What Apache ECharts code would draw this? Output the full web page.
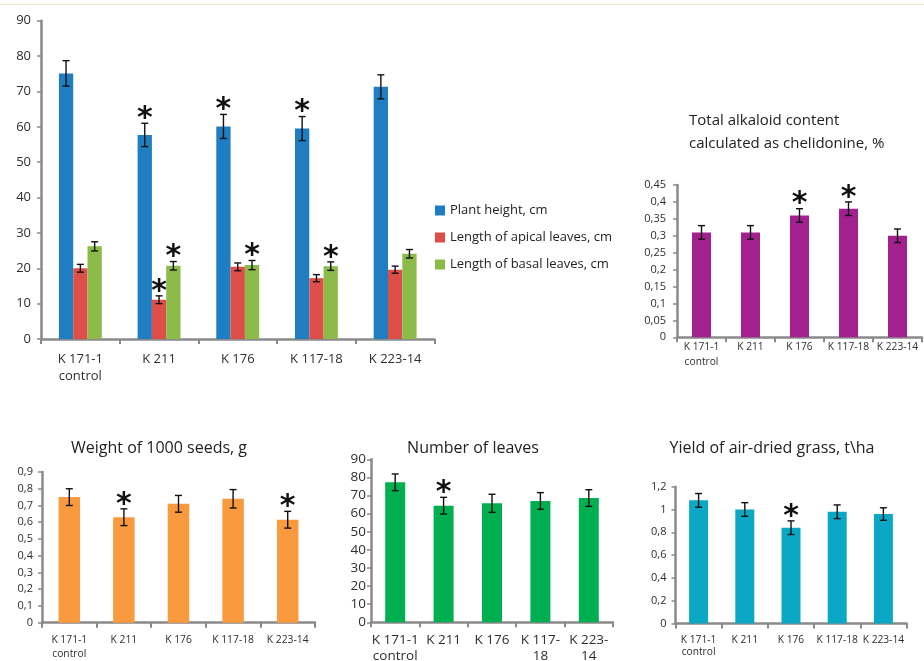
<!DOCTYPE html>
<html><head><meta charset="utf-8">
<script src="https://cdn.jsdelivr.net/npm/echarts@6/dist/echarts.min.js"></script>
<style>html,body{margin:0;padding:0;background:#fff}#c{width:924px;height:661px}</style>
</head><body><div id="c"></div>
<script>
// ---- data ----
const categories = ['K 171-1\ncontrol', 'K 211', 'K 176', 'K 117-18', 'K 223-14'];
const categoriesLeaves = ['K 171-1\ncontrol', 'K 211', 'K 176', 'K 117-\n18', 'K 223-\n14'];

const plantHeight = [75.1, 57.7, 60.1, 59.5, 71.3];
const plantHeightErr = [3.6, 3.3, 3.4, 3.4, 3.4];
const plantHeightSig = [0, 1, 1, 1, 0];
const apicalLen = [20.0, 11.1, 20.4, 17.2, 19.6];
const apicalErr = [1.1, 1.1, 1.1, 1.0, 1.0];
const apicalSig = [0, 1, 0, 0, 0];
const basalLen = [26.2, 20.7, 20.9, 20.6, 24.1];
const basalErr = [1.3, 1.2, 1.3, 1.2, 1.2];
const basalSig = [0, 1, 1, 1, 0];

const alkaloid = [0.31, 0.31, 0.36, 0.38, 0.30];
const alkaloidErr = [0.02, 0.02, 0.02, 0.02, 0.02];
const alkaloidSig = [0, 0, 1, 1, 0];

const seedWeight = [0.75, 0.63, 0.71, 0.74, 0.615];
const seedErr = [0.05, 0.05, 0.05, 0.055, 0.05];
const seedSig = [0, 1, 0, 0, 1];

const leafCount = [77.3, 64.4, 65.7, 67.0, 68.6];
const leafErr = [4.6, 4.6, 5.0, 4.6, 4.6];
const leafSig = [0, 1, 0, 0, 0];

const grassYield = [1.08, 1.0, 0.84, 0.98, 0.96];
const yieldErr = [0.06, 0.06, 0.06, 0.06, 0.055];
const yieldSig = [0, 0, 1, 0, 0];

const seriesNames = ['Plant height, cm', 'Length of apical leaves, cm', 'Length of basal leaves, cm'];
const titles = ['Total alkaloid content\ncalculated as chelidonine, %', 'Weight of 1000 seeds, g', 'Number of leaves', 'Yield of air-dried grass, t\\ha'];

// ---- chart ----
const FONT = '"Open Sans", "Noto Sans", sans-serif';
const AXIS_COLOR = '#8a8a8a';
const LABEL_COLOR = '#2e2e2e';
const fmt = v => String(Number(v.toFixed(3))).replace('.', ',');

const grids = [
  {left: 41, top: 20.7, width: 393.5, height: 318.3},
  {left: 677, top: 185, width: 245, height: 152.3},
  {left: 42, top: 472, width: 273, height: 150.7},
  {left: 371, top: 459.3, width: 242, height: 163},
  {left: 675.5, top: 486.7, width: 231, height: 136.7}
].map(g => Object.assign({outerBoundsMode: 'none', containLabel: false}, g));

const xCfg = [
  {data: categories, fs: 13, lh: 17, margin: 12},
  {data: categories, fs: 10.2, lh: 15, margin: 2},
  {data: categories, fs: 10.3, lh: 13.3, margin: 11},
  {data: categoriesLeaves, fs: 13.5, lh: 16, margin: 10},
  {data: categories, fs: 10.2, lh: 12, margin: 11}
];
const yCfg = [
  {max: 90, interval: 10, fs: 13, margin: 10},
  {max: 0.45, interval: 0.05, fs: 11, margin: 11},
  {max: 0.9, interval: 0.1, fs: 11, margin: 9},
  {max: 90, interval: 10, fs: 13.5, margin: 5},
  {max: 1.2, interval: 0.2, fs: 11, margin: 9}
];

const xAxis = xCfg.map((c, i) => ({
  type: 'category', gridIndex: i, data: c.data,
  axisLine: {lineStyle: {color: AXIS_COLOR, width: 2.5}},
  axisTick: {show: true, length: 5, lineStyle: {color: AXIS_COLOR, width: 2}},
  axisLabel: {interval: 0, fontSize: c.fs, lineHeight: c.lh, margin: c.margin, color: LABEL_COLOR, fontFamily: FONT}
}));
const yAxis = yCfg.map((c, i) => ({
  type: 'value', gridIndex: i, min: 0, max: c.max, interval: c.interval,
  splitLine: {show: false},
  axisLine: {show: true, lineStyle: {color: AXIS_COLOR, width: 2.5}},
  axisTick: {show: true, length: 4, lineStyle: {color: AXIS_COLOR, width: 1.5}},
  axisLabel: {fontSize: c.fs, margin: c.margin, color: LABEL_COLOR, fontFamily: FONT, formatter: fmt}
}));

function barSeries(name, gi, data, color, width) {
  return {type: 'bar', name, xAxisIndex: gi, yAxisIndex: gi, data, barWidth: width, barGap: '0%',
    itemStyle: {color}, z: 2, silent: true};
}
function errSeries(name, gi, values, errs, sig, offset, cap) {
  return {
    type: 'custom', name, xAxisIndex: gi, yAxisIndex: gi, z: 5, silent: true,
    data: values.map((v, i) => [i, v, errs[i], sig[i]]),
    encode: {x: 0, y: 1},
    renderItem: (params, api) => {
      const i = api.value(0), v = api.value(1), e = api.value(2), s = api.value(3);
      const top = api.coord([i, v + e]);
      const bot = api.coord([i, v - e]);
      const x = top[0] + offset;
      const st = {stroke: '#111', lineWidth: 1.4};
      const children = [
        {type: 'line', shape: {x1: x, y1: top[1], x2: x, y2: bot[1]}, style: st},
        {type: 'line', shape: {x1: x - cap, y1: top[1], x2: x + cap, y2: top[1]}, style: st},
        {type: 'line', shape: {x1: x - cap, y1: bot[1], x2: x + cap, y2: bot[1]}, style: st}
      ];
      if (s) {
        children.push({type: 'text', style: {text: '*', x: x, y: top[1] - 4,
          align: 'center', verticalAlign: 'middle', fill: '#111',
          font: 'bold 30px "DejaVu Sans", sans-serif'}});
      }
      return {type: 'group', children};
    }
  };
}

const series = [
  barSeries(seriesNames[0], 0, plantHeight, '#1f7dc1', 14.3),
  barSeries(seriesNames[1], 0, apicalLen, '#de4f49', 14.3),
  barSeries(seriesNames[2], 0, basalLen, '#8dbb49', 14.3),
  errSeries('e0', 0, plantHeight, plantHeightErr, plantHeightSig, -14.3, 3.5),
  errSeries('e1', 0, apicalLen, apicalErr, apicalSig, 0, 3.5),
  errSeries('e2', 0, basalLen, basalErr, basalSig, 14.3, 3.5),
  barSeries('alkaloid', 1, alkaloid, '#a2218f', 19),
  errSeries('e3', 1, alkaloid, alkaloidErr, alkaloidSig, 0, 3.5),
  barSeries('seeds', 2, seedWeight, '#fa9a3e', 21.5),
  errSeries('e4', 2, seedWeight, seedErr, seedSig, 0, 3.5),
  barSeries('leaves', 3, leafCount, '#00b050', 20),
  errSeries('e5', 3, leafCount, leafErr, leafSig, 0, 3.5),
  barSeries('yield', 4, grassYield, '#0aa8c4', 19),
  errSeries('e6', 4, grassYield, yieldErr, yieldSig, 0, 3.5)
];

const titleStyle = {fill: '#222', fontFamily: FONT};
const graphic = [
  {type: 'rect', shape: {x: 0, y: 4, width: 924, height: 1}, style: {fill: '#f3e7d6'}, silent: true},
  {type: 'text', x: 689, y: 109.4, style: Object.assign({text: titles[0], fontSize: 15, lineHeight: 22.6, align: 'left', verticalAlign: 'top'}, titleStyle)},
  {type: 'text', x: 159, y: 448, style: Object.assign({text: titles[1], fontSize: 16, align: 'center', verticalAlign: 'middle'}, titleStyle)},
  {type: 'text', x: 473, y: 448, style: Object.assign({text: titles[2], fontSize: 16, align: 'center', verticalAlign: 'middle'}, titleStyle)},
  {type: 'text', x: 772, y: 448, style: Object.assign({text: titles[3], fontSize: 16, align: 'center', verticalAlign: 'middle'}, titleStyle)}
];

const chart = echarts.init(document.getElementById('c'), null, {renderer: 'canvas'});
chart.setOption({
  animation: false,
  backgroundColor: '#fff',
  grid: grids, xAxis, yAxis, series, graphic,
  legend: {
    data: seriesNames, orient: 'vertical', left: 430, top: 199,
    itemWidth: 10, itemHeight: 10, itemGap: 14, icon: 'rect',
    textStyle: {fontSize: 13, fontFamily: FONT, color: '#222'}, selectedMode: false
  }
});
</script></body></html>
